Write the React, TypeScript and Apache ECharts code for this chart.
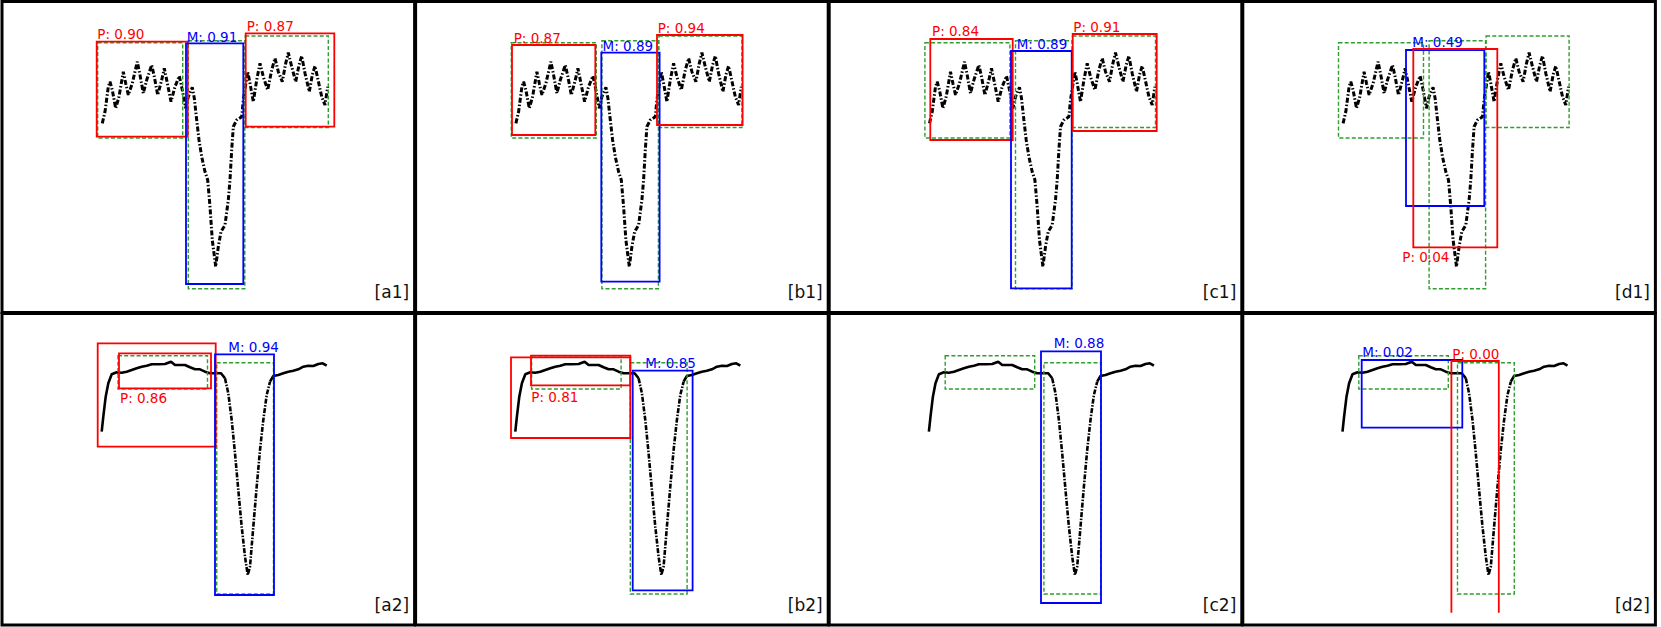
import React, { useEffect, useRef } from "react";
import * as echarts from "echarts";

type Pt = [number, number];
type Box = [number, number, number, number];
type Pred = { kind: "P" | "M"; score: string | null; box: Box; label?: Pt };

// Signals (local panel coordinates, y grows downward like an image)
const topSignal: Pt[] = [
  [102.3, 123.3], [105, 111.7], [108.3, 86.7], [110, 81.7], [112.3, 90], [115.7, 108.3], [119, 96.7],
  [123.3, 71.7], [125.7, 83.3], [128.3, 95], [132.3, 83.3], [137.3, 61.7], [140, 75], [143.3, 93.3],
  [146.7, 80], [151.7, 65], [154.3, 76.7], [157.7, 95], [161.7, 80], [164.3, 68.3], [166.7, 80],
  [171, 101.7], [175, 86.7], [179.3, 76], [182.3, 90], [185.7, 108.3], [188.3, 96.7], [192.3, 87.3],
  [194.3, 98.3], [196.7, 120], [199, 140], [201.7, 156.7], [205, 171.7], [207.7, 180], [210, 206.7],
  [212.3, 240], [215.7, 266.7], [218.3, 246.7], [221, 231.7], [225, 225], [228.3, 200], [230, 180],
  [231.7, 150], [233.3, 126.7], [236.7, 120], [241.7, 116.7], [243.3, 100], [247.7, 71.7], [250, 83.3],
  [253.3, 101.7], [256.7, 80], [260, 63.3], [263.3, 76.7], [267.7, 90], [271.7, 70], [275, 58.3],
  [278.3, 71.7], [282.3, 81.7], [285.7, 63.3], [288.3, 52.7], [291.7, 66.7], [295.7, 81.7], [299, 65],
  [301.7, 56], [305, 73.3], [309.3, 91.7], [312.3, 75], [315, 66], [317.7, 78.3], [321.7, 96.7],
  [325, 105], [327.7, 86.7],
];

const bottomSignal: Pt[] = [
  [101.7, 119.7], [103.3, 104.7], [105.7, 84.7], [108.3, 71.3], [111.7, 62.3], [116.7, 60.3],
  [121.7, 60.7], [126.7, 59.7], [131.7, 58], [136.7, 56.3], [141.7, 54.7], [146.7, 53.7], [151.7, 52.3],
  [158.3, 52.3], [165, 52], [171, 49.7], [175, 53], [180, 53], [185, 53], [190, 55.3], [195, 57.3],
  [200, 57.3], [205, 59.7], [210, 61.3], [215, 61.3], [221, 61.3], [225, 66.3], [228.3, 81.3],
  [231.7, 108], [235, 141.3], [238.3, 178], [241.7, 214.7], [245, 244.7], [247.7, 263], [250, 254.7],
  [253.3, 214.7], [256.7, 174.7], [260, 138], [263.3, 108], [266.7, 83], [270, 69.7], [273.3, 64],
  [278.3, 63], [283.3, 61.3], [288.3, 59.7], [293.3, 58.7], [298.3, 57.3], [303.3, 54.7], [308.3, 53.7],
  [313.3, 54], [318.3, 52], [322.7, 51.3], [326.7, 53.7],
];

// Ground-truth boxes [x1, y1, x2, y2]
const topTruth: Box[] = [
  [97.7, 42.7, 182.7, 138],
  [188.3, 40.7, 244.8, 288.7],
  [245.3, 36, 328.3, 127.5],
];
const bottomTruth: Box[] = [
  [118, 43.7, 207.5, 77],
  [216.7, 50.7, 273.5, 282],
];

// Predicted boxes with scores and label anchors (x, text baseline)
const predA1: Pred[] = [
  { kind: "P", score: "0.90", box: [96.7, 41.7, 187.7, 136.7], label: [97.3, 38.3] },
  { kind: "M", score: "0.91", box: [186, 43.3, 243.3, 284], label: [186.7, 41.7] },
  { kind: "P", score: "0.87", box: [245.7, 33.3, 334.3, 126.7], label: [246.7, 30.5] },
];
const predB1: Pred[] = [
  { kind: "P", score: "0.87", box: [98.4, 45, 181.7, 135], label: [100.1, 42.3] },
  { kind: "M", score: "0.89", box: [187.7, 52.7, 246, 281.7], label: [189, 51] },
  { kind: "P", score: "0.94", box: [243.4, 35, 329, 125], label: [244.1, 32.3] },
];
const predC1: Pred[] = [
  { kind: "P", score: "0.84", box: [103.1, 39, 185.5, 140], label: [104.8, 36] },
  { kind: "M", score: "0.89", box: [183.8, 51, 244.5, 288.3], label: [189.5, 48.3] },
  { kind: "P", score: "0.91", box: [245.5, 34, 329.5, 131], label: [246.1, 31.7] },
];
const predD1: Pred[] = [
  { kind: "M", score: "0.49", box: [165.2, 50, 243.5, 206], label: [171.5, 46.7] },
  { kind: "P", score: "0.04", box: [172.5, 49, 256.5, 247.3], label: [161.5, 261.7] },
];
const predA2: Pred[] = [
  { kind: "P", score: null, box: [97.7, 31.3, 215.7, 134.7] },
  { kind: "P", score: "0.86", box: [119, 41.3, 211, 76.3], label: [120, 90.7] },
  { kind: "M", score: "0.94", box: [215, 42.3, 274, 283], label: [228.3, 39.7] },
];
const predB2: Pred[] = [
  { kind: "P", score: null, box: [97.4, 45.3, 216.7, 126] },
  { kind: "P", score: "0.81", box: [117.4, 43.7, 216.7, 73.3], label: [117.7, 89.3] },
  { kind: "M", score: "0.85", box: [219.1, 58.7, 279, 278.3], label: [231.7, 55.3] },
];
const predC2: Pred[] = [
  { kind: "M", score: "0.88", box: [213.8, 39.3, 273.8, 291], label: [226.5, 36] },
];
const predD2: Pred[] = [
  { kind: "M", score: "0.02", box: [120.9, 48, 221.5, 115.7], label: [121.5, 44.7] },
  { kind: "P", score: "0.00", box: [210.6, 49, 258, 330], label: [211.5, 46.3] },
];

const panelNames = ["a1", "b1", "c1", "d1", "a2", "b2", "c2", "d2"];
const panelPreds = [predA1, predB1, predC1, predD1, predA2, predB2, predC2, predD2];

// image extent inside each panel (boxes are clipped to it)
const IMAGE_BOTTOM = 300.7;

const FONT = '"DejaVu Sans", "Liberation Sans", sans-serif';
const RED = "#ff0000";
const BLUE = "#0000ff";
const GREEN = "#2f9e2f";

export default function App() {
  const ref = useRef<HTMLDivElement>(null);
  useEffect(() => {
    if (!ref.current) return;
    const chart = echarts.init(ref.current, undefined, { renderer: "svg" });
    const pitch = 413.6;
    const gw = 412.6;
    const grids: any[] = [];
    const xAxes: any[] = [];
    const yAxes: any[] = [];
    const series: any[] = [];

    panelNames.forEach((name, i) => {
      const row = i < 4 ? 0 : 1;
      const col = i % 4;
      const top = row === 0 ? 1.5 : 313.5;
      const gh = row === 0 ? 311 : 311.5;
      const xMin = 2;
      const xMax = 2 + gw;
      const yMin = 1.5;
      const yMax = 1.5 + gh;
      grids.push({
        left: 2 + col * pitch,
        top,
        width: gw,
        height: gh,
        show: true,
        borderColor: "#000",
        borderWidth: 3,
        backgroundColor: "#fff",
      });
      xAxes.push({ type: "value", gridIndex: i, min: xMin, max: xMax, show: false });
      yAxes.push({ type: "value", gridIndex: i, min: yMin, max: yMax, inverse: true, show: false });

      const base = { xAxisIndex: i, yAxisIndex: i, silent: true };
      if (row === 0) {
        series.push({
          ...base,
          type: "line",
          data: topSignal,
          showSymbol: false,
          symbol: "none",
          z: 1,
          lineStyle: { color: "#000", width: 3, type: [5, 2, 1.5, 2] },
        });
      } else {
        const segs = [
          { d: bottomSignal.filter((p) => p[0] <= 225), dash: "solid" as any },
          { d: bottomSignal.filter((p) => p[0] >= 225 && p[0] <= 270), dash: [5, 1.5, 1.5, 1.5] },
          { d: bottomSignal.filter((p) => p[0] >= 270), dash: "solid" as any },
        ];
        segs.forEach((s) =>
          series.push({
            ...base,
            type: "line",
            data: s.d,
            showSymbol: false,
            symbol: "none",
            z: 1,
            lineStyle: { color: "#000", width: 2.6, type: s.dash },
          })
        );
      }

      const truth = row === 0 ? topTruth : bottomTruth;
      const preds = panelPreds[i];
      const boxes = [
        ...truth.map((b) => ({ box: b, stroke: GREEN, width: 1.4, dash: [4, 2.2] })),
        ...preds.map((p) => ({
          box: p.box,
          stroke: p.kind === "P" ? RED : BLUE,
          width: 1.8,
          dash: null as any,
        })),
      ];
      series.push({
        ...base,
        type: "custom",
        z: 3,
        clip: false,
        data: boxes.map((b) => b.box),
        renderItem: (params: any, api: any) => {
          const b = boxes[params.dataIndex];
          const style = {
            fill: "none",
            stroke: b.stroke,
            lineWidth: b.width,
            lineDash: b.dash || undefined,
          };
          if (b.box[3] > IMAGE_BOTTOM) {
            const a = api.coord([b.box[0], IMAGE_BOTTOM]);
            const c = api.coord([b.box[0], b.box[1]]);
            const d = api.coord([b.box[2], b.box[1]]);
            const e = api.coord([b.box[2], IMAGE_BOTTOM]);
            return {
              type: "polyline",
              shape: { points: [a, c, d, e] },
              style,
            };
          }
          const p1 = api.coord([b.box[0], b.box[1]]);
          const p2 = api.coord([b.box[2], b.box[3]]);
          return {
            type: "rect",
            shape: {
              x: Math.min(p1[0], p2[0]),
              y: Math.min(p1[1], p2[1]),
              width: Math.abs(p2[0] - p1[0]),
              height: Math.abs(p2[1] - p1[1]),
            },
            style,
          };
        },
      });

      const labels: { x: number; y: number; text: string; color: string; size: number; align: string }[] = [];
      preds.forEach((p) => {
        if (p.score && p.label) {
          labels.push({
            x: p.label[0],
            y: p.label[1],
            text: `${p.kind}: ${p.score}`,
            color: p.kind === "P" ? RED : BLUE,
            size: 13.5,
            align: "left",
          });
        }
      });
      labels.push({ x: xMax - 5.5, y: yMax - 14.5, text: `[${name}]`, color: "#111", size: 17, align: "right" });
      series.push({
        ...base,
        type: "custom",
        z: 4,
        clip: false,
        data: labels.map((l) => [l.x, l.y]),
        renderItem: (params: any, api: any) => {
          const l = labels[params.dataIndex];
          const pt = api.coord([l.x, l.y]);
          return {
            type: "text",
            x: pt[0],
            y: pt[1] - 0.35 * l.size,
            style: {
              text: l.text,
              fill: l.color,
              font: `${l.size}px ${FONT}`,
              align: l.align,
              verticalAlign: "middle",
            },
          };
        },
      });
    });

    chart.setOption({
      animation: false,
      backgroundColor: "#fff",
      grid: grids,
      xAxis: xAxes,
      yAxis: yAxes,
      series,
    });
    return () => chart.dispose();
  }, []);
  return (
    <div
      ref={ref}
      style={{ position: "absolute", left: 0, top: 0, width: 1661, height: 627, background: "#fff" }}
    />
  );
}
